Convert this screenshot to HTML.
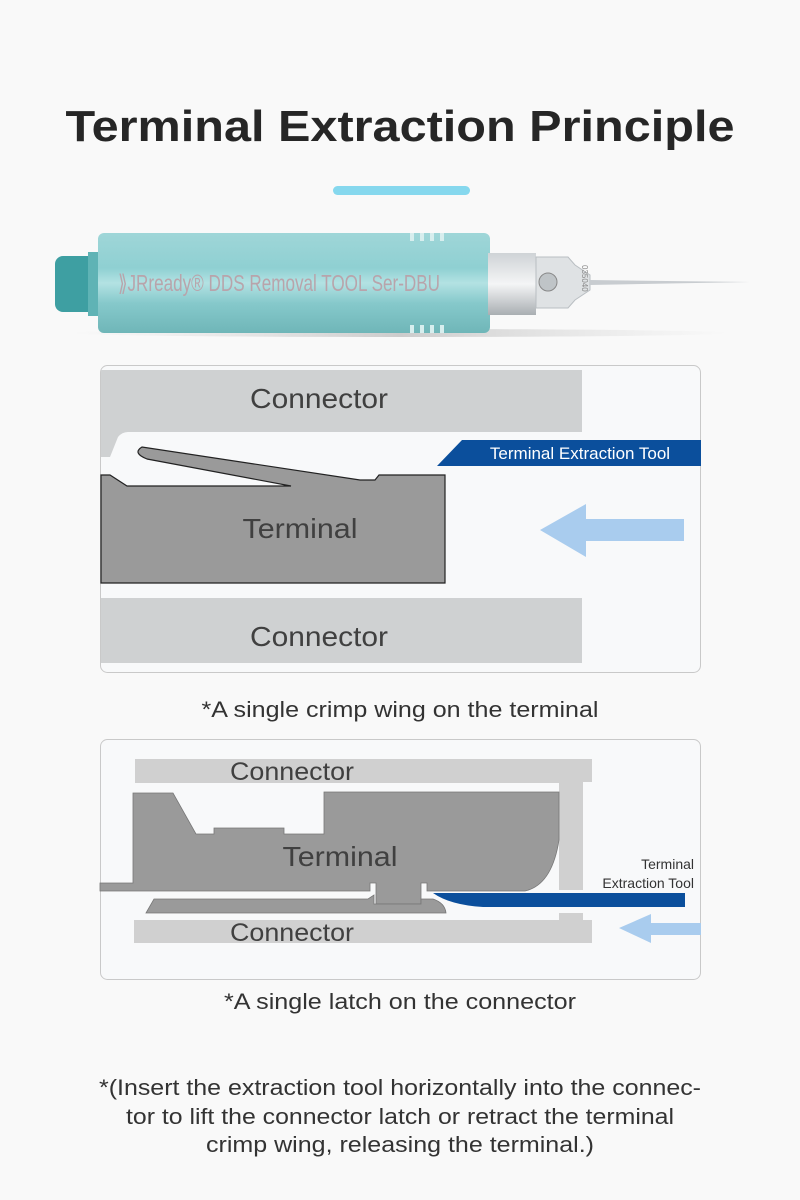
<!DOCTYPE html>
<html><head><meta charset="utf-8"><style>
html,body{margin:0;padding:0;background:#f9f9f9;}
svg{display:block;}
</style></head><body>
<svg width="800" height="1200" viewBox="0 0 800 1200" xmlns="http://www.w3.org/2000/svg" font-family="Liberation Sans, Arial, sans-serif">
<defs>
<linearGradient id="body" x1="0" y1="0" x2="0" y2="1">
<stop offset="0" stop-color="#9fd6d8"/><stop offset="0.35" stop-color="#8fd0d2"/><stop offset="0.5" stop-color="#b3e2e3"/><stop offset="0.7" stop-color="#86c9cb"/><stop offset="1" stop-color="#6fb6b8"/></linearGradient>
<linearGradient id="metal" x1="0" y1="0" x2="0" y2="1">
<stop offset="0" stop-color="#cfd3d6"/><stop offset="0.5" stop-color="#f4f5f6"/><stop offset="1" stop-color="#a9aeb2"/></linearGradient>
<linearGradient id="shadow" x1="0" y1="0" x2="1" y2="0">
<stop offset="0" stop-color="#ddd" stop-opacity="0"/><stop offset="0.5" stop-color="#ccc"/><stop offset="1" stop-color="#ddd" stop-opacity="0"/></linearGradient>
</defs>
<rect width="800" height="1200" fill="#f9f9f9"/>
<text x="400" y="141" text-anchor="middle" font-size="44" font-weight="bold" fill="#262626" textLength="669" lengthAdjust="spacingAndGlyphs">Terminal Extraction Principle</text>
<rect x="333" y="186" width="137" height="9" rx="4.5" fill="#86d8ee"/>

<!-- tool -->
<ellipse cx="400" cy="333" rx="330" ry="4" fill="url(#shadow)"/>
<rect x="55" y="256" width="42" height="56" rx="8" fill="#3e9fa2"/>
<rect x="88" y="252" width="12" height="64" fill="#5fb3b5"/>
<rect x="98" y="233" width="392" height="100" rx="6" fill="url(#body)"/>
<g fill="#d7eeee"><rect x="410" y="233" width="4" height="8"/><rect x="420" y="233" width="4" height="8"/><rect x="430" y="233" width="4" height="8"/><rect x="440" y="233" width="4" height="8"/><rect x="410" y="325" width="4" height="8"/><rect x="420" y="325" width="4" height="8"/><rect x="430" y="325" width="4" height="8"/><rect x="440" y="325" width="4" height="8"/></g>
<text x="118" y="291" font-size="23" fill="#b8a4ab" textLength="322" lengthAdjust="spacingAndGlyphs">⟫JRready® DDS Removal TOOL Ser-DBU</text>
<rect x="488" y="253" width="48" height="62" fill="url(#metal)"/>
<path d="M536 257 L568 257 L575 265 L590 275 L590 290 L575 300 L568 308 L536 308 Z" fill="#dfe2e4" stroke="#b9bec2"/>
<circle cx="548" cy="282" r="9" fill="#bfc4c7" stroke="#888"/>
<path d="M590 280 L750 282 L590 285 Z" fill="#c8ccd0"/>
<text x="582" y="265" font-size="8" fill="#888" transform="rotate(90 582 265)">035040</text>

<!-- panel 1 -->
<rect x="100.5" y="365.5" width="600" height="307" rx="7" fill="#f8f9fa" stroke="#c9c9c9"/>
<path d="M101 370 L582 370 L582 432 L128 432 Q122 432 118 437 L110 457 L101 457 Z" fill="#cfd1d2"/>
<text x="319" y="408" text-anchor="middle" font-size="28" fill="#404040" textLength="138" lengthAdjust="spacingAndGlyphs">Connector</text>
<path d="M462 440 L701 440 L701 466 L437 466 Z" fill="#0b4f9c"/>
<text x="580" y="459" text-anchor="middle" font-size="17" fill="#fff">Terminal Extraction Tool</text>
<path d="M101 475 L110 475 L127 486 L291 486 L147 459 Q132 453 142 447 L360 480 L375 480 L379 475 L445 475 L445 583 L101 583 Z" fill="#9a9a9a" stroke="#222" stroke-width="1.2"/>
<text x="300" y="538" text-anchor="middle" font-size="28" fill="#404040" textLength="115" lengthAdjust="spacingAndGlyphs">Terminal</text>
<path d="M540 530 L586 504 L586 519 L684 519 L684 541 L586 541 L586 557 Z" fill="#a9ccee"/>
<rect x="101" y="598" width="481" height="65" fill="#cfd1d2"/>
<text x="319" y="646" text-anchor="middle" font-size="28" fill="#404040" textLength="138" lengthAdjust="spacingAndGlyphs">Connector</text>
<text x="400" y="717" text-anchor="middle" font-size="22" fill="#333" textLength="397" lengthAdjust="spacingAndGlyphs">*A single crimp wing on the terminal</text>

<!-- panel 2 -->
<rect x="100.5" y="739.5" width="600" height="240" rx="7" fill="#f8f9fa" stroke="#c9c9c9"/>
<path d="M135 759 L592 759 L592 782 L583 782 L583 890 L559 890 L559 783 L135 783 Z" fill="#d0d0d0"/>
<text x="292" y="780" text-anchor="middle" font-size="25" fill="#404040" textLength="124" lengthAdjust="spacingAndGlyphs">Connector</text>
<path d="M100 883 L133 883 L133 793 L173 793 L196 834 L214 834 L214 828 L284 828 L284 834 L324 834 L324 792 L559 792 L559 840 Q552 885 525 891 L427 891 L427 883 L421 883 L421 904 L376 904 L376 883 L370 883 L370 891 L100 891 Z" fill="#9a9a9a" stroke="#777" stroke-width="0.8"/>
<text x="340" y="866" text-anchor="middle" font-size="28" fill="#404040" textLength="115" lengthAdjust="spacingAndGlyphs">Terminal</text>
<path d="M146 913 L154 899 L368 899 L374 895 L374 904 L421 904 L421 899 L433 899 Q445 903 446 913 Z" fill="#9a9a9a" stroke="#777" stroke-width="0.8"/>
<path d="M433 893 L685 893 L685 907 L483 907 Q450 905 433 893 Z" fill="#0b4f9c"/>
<text x="694" y="869" text-anchor="end" font-size="14" fill="#333">Terminal</text>
<text x="694" y="888" text-anchor="end" font-size="14" fill="#333">Extraction Tool</text>
<path d="M559 913 L583 913 L583 920 L592 920 L592 943 L134 943 L134 920 L559 920 Z" fill="#d0d0d0"/>
<text x="292" y="941" text-anchor="middle" font-size="25" fill="#404040" textLength="124" lengthAdjust="spacingAndGlyphs">Connector</text>
<path d="M619 928 L651 914 L651 923 L701 923 L701 935 L651 935 L651 943 Z" fill="#a9ccee"/>
<text x="400" y="1009" text-anchor="middle" font-size="22" fill="#333" textLength="352" lengthAdjust="spacingAndGlyphs">*A single latch on the connector</text>

<text x="400" y="1095" text-anchor="middle" font-size="22" fill="#333" textLength="602" lengthAdjust="spacingAndGlyphs">*(Insert the extraction tool horizontally into the connec-</text>
<text x="400" y="1124" text-anchor="middle" font-size="22" fill="#333" textLength="548" lengthAdjust="spacingAndGlyphs">tor to lift the connector latch or retract the terminal</text>
<text x="400" y="1152" text-anchor="middle" font-size="22" fill="#333" textLength="388" lengthAdjust="spacingAndGlyphs">crimp wing, releasing the terminal.)</text>
</svg>
</body></html>
